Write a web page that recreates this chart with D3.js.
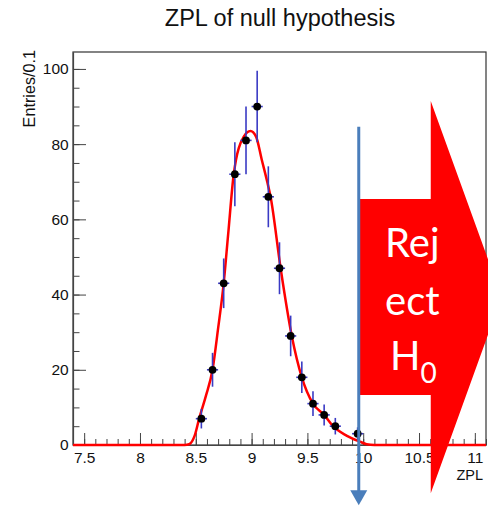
<!DOCTYPE html>
<html><head><meta charset="utf-8">
<script src="https://cdn.jsdelivr.net/npm/d3@7"></script>
<style>body{margin:0;background:#fff}svg{display:block}</style>
</head><body>
<script>
// ---- data ----
const binCenters = [8.55, 8.65, 8.75, 8.85, 8.95, 9.05, 9.15, 9.25, 9.35, 9.45, 9.55, 9.65, 9.75, 9.85, 9.95];
const entries    = [7, 20, 43, 72, 81, 90, 66, 47, 29, 18, 11, 8, 5, 0, 3];
const errors     = [2.6, 4.5, 6.6, 8.5, 9.0, 9.5, 8.1, 6.9, 5.4, 4.2, 3.3, 2.8, 2.2, 0, 1.7];
const binHalfWidth = 0.05;
const fitX = [7.40, 8.40, 8.44, 8.49, 8.53, 8.59, 8.65, 8.70, 8.75, 8.79, 8.84, 8.93, 8.99, 9.04, 9.09, 9.14, 9.17, 9.26, 9.36, 9.45, 9.55, 9.65, 9.73, 9.85, 9.97, 10.03, 10.10, 11.10];
const fitY = [0, 0, 0.2, 2.5, 7, 13, 20, 31, 43, 56, 72, 82, 83.5, 82, 76, 70, 66, 47, 29, 18, 11, 8, 5, 2.5, 0.9, 0.2, 0, 0];
const xTickValues = [7.5, 8, 8.5, 9, 9.5, 10, 10.5, 11];
const xTickLabels = ["7.5", "8", "8.5", "9", "9.5", "10", "10.5", "11"];
const yTickValues = [0, 20, 40, 60, 80, 100];
const yTickLabels = ["0", "20", "40", "60", "80", "100"];
const titleText = "ZPL of null hypothesis";
const xTitle = "ZPL";
const yTitle = "Entries/0.1";
const rejectWords = ["Rej", "ect", "H"];
const rejectSub = "0";
const cutValue = 9.96;

// ---- layout ----
const W = 488, H = 506;
const x = d3.scaleLinear().domain([7.4, 11.1]).range([73, 486]);
const y = d3.scaleLinear().domain([0, 104.5]).range([445, 52]);
const FONT = "'Liberation Sans', Arial, Helvetica, sans-serif";

const svg = d3.select("body").append("svg").attr("width", W).attr("height", H);

// title
svg.append("text").attr("x", 280).attr("y", 26).attr("text-anchor", "middle")
  .attr("font-family", FONT).attr("font-size", 23.5).attr("fill", "#111").text(titleText);

// frame
svg.append("rect").attr("x", x.range()[0]).attr("y", y.range()[1])
  .attr("width", x.range()[1] - x.range()[0]).attr("height", y.range()[0] - y.range()[1])
  .attr("fill", "none").attr("stroke", "#333").attr("stroke-width", 1.2);

// x axis
const xMinor = d3.range(75, 112).map(d => d / 10);
const gxm = svg.append("g").attr("transform", `translate(0,${y(0)})`)
  .call(d3.axisBottom(x).tickValues(xMinor).tickSizeInner(-6).tickSizeOuter(0).tickFormat(""));
gxm.select(".domain").remove();
const gx = svg.append("g").attr("transform", `translate(0,${y(0)})`)
  .call(d3.axisBottom(x).tickValues(xTickValues).tickSizeInner(-12).tickSizeOuter(0)
    .tickPadding(6.5).tickFormat((d, i) => xTickLabels[i]));
gx.select(".domain").attr("stroke", "#444").attr("stroke-width", 1.2);
gx.selectAll("text").attr("font-family", FONT).attr("font-size", 15.5).attr("fill", "#111");

// y axis
const yMinor = d3.range(0, 105, 5);
const gym = svg.append("g").attr("transform", `translate(${x(7.4)},0)`)
  .call(d3.axisLeft(y).tickValues(yMinor).tickSizeInner(-6.5).tickSizeOuter(0).tickFormat(""));
gym.select(".domain").remove();
const gy = svg.append("g").attr("transform", `translate(${x(7.4)},0)`)
  .call(d3.axisLeft(y).tickValues(yTickValues).tickSizeInner(-13).tickSizeOuter(0)
    .tickPadding(4.3).tickFormat((d, i) => yTickLabels[i]));
gy.select(".domain").attr("stroke", "#444").attr("stroke-width", 1.2);
gy.selectAll("text").attr("font-family", FONT).attr("font-size", 15.5).attr("fill", "#111");
svg.selectAll(".tick line").attr("stroke", "#444");

// axis titles
svg.append("text").attr("x", 483).attr("y", 480).attr("text-anchor", "end")
  .attr("font-family", FONT).attr("font-size", 14.5).attr("fill", "#111").text(xTitle);
svg.append("text").attr("transform", "translate(35,50) rotate(-90)").attr("text-anchor", "end")
  .attr("font-family", FONT).attr("font-size", 16.2).attr("fill", "#111").text(yTitle);

// fit curve
const fit = fitX.map((v, i) => [v, fitY[i]]);
svg.append("path").datum(fit)
  .attr("d", d3.line().x(d => x(d[0])).y(d => y(d[1])).curve(d3.curveMonotoneX))
  .attr("fill", "none").attr("stroke", "#ff0000").attr("stroke-width", 2.5);

// data points with errors
const pts = binCenters.map((c, i) => ({ c, n: entries[i], e: errors[i] })).filter(d => d.n > 0);
const gp = svg.append("g");
gp.selectAll("line.v").data(pts).join("line").attr("class", "v")
  .attr("x1", d => x(d.c)).attr("x2", d => x(d.c))
  .attr("y1", d => y(d.n + d.e)).attr("y2", d => y(d.n - d.e))
  .attr("stroke", "#3a3ac4").attr("stroke-width", 1.6);
gp.selectAll("line.h").data(pts).join("line").attr("class", "h")
  .attr("x1", d => x(d.c - binHalfWidth)).attr("x2", d => x(d.c + binHalfWidth))
  .attr("y1", d => y(d.n)).attr("y2", d => y(d.n))
  .attr("stroke", "#3a3ac4").attr("stroke-width", 1.6);
gp.selectAll("circle").data(pts).join("circle")
  .attr("cx", d => x(d.c)).attr("cy", d => y(d.n)).attr("r", 3.9).attr("fill", "#000");

// reject arrow overlay (geometry in axis units)
const arrow = {
  left: cutValue, neck: 10.605, tip: 11.24,
  headTop: 91.5, bodyTop: 65.4, mid: 39.35, bodyBottom: 13.3, headBottom: -12.8
};
const arrowPts = [
  [arrow.left, arrow.bodyTop], [arrow.neck, arrow.bodyTop], [arrow.neck, arrow.headTop],
  [arrow.tip, arrow.mid], [arrow.neck, arrow.headBottom], [arrow.neck, arrow.bodyBottom],
  [arrow.left, arrow.bodyBottom]
];
svg.append("path").attr("d", d3.line().x(d => x(d[0])).y(d => y(d[1]))(arrowPts) + "Z")
  .attr("fill", "#ff0000");

const tx = x(10.44), cy = y(arrow.mid);
const TFONT = "Lato, 'Open Sans', sans-serif";
svg.append("text").attr("x", tx).attr("y", cy - 40).attr("text-anchor", "middle")
  .attr("font-family", TFONT).attr("font-size", 40).attr("fill", "#fff").text(rejectWords[0]);
svg.append("text").attr("x", tx).attr("y", cy + 18).attr("text-anchor", "middle")
  .attr("font-family", TFONT).attr("font-size", 40).attr("fill", "#fff").text(rejectWords[1]);
const h0 = svg.append("text").attr("x", tx + 1).attr("y", cy + 73).attr("text-anchor", "middle")
  .attr("font-family", TFONT).attr("font-size", 40).attr("fill", "#fff");
h0.append("tspan").text(rejectWords[2]);
h0.append("tspan").attr("font-size", 28).attr("dy", 13).text(rejectSub);

// blue cut line with arrowhead
const bx = x(cutValue);
svg.append("line").attr("x1", bx).attr("x2", bx).attr("y1", y(84.6)).attr("y2", y(-12.5))
  .attr("stroke", "#4a7ebb").attr("stroke-width", 3);
svg.append("path")
  .attr("d", `M${bx - 8.5},${y(-12)}L${bx + 8.5},${y(-12)}L${bx},${y(-16)}Z`)
  .attr("fill", "#4a7ebb");
</script>
</body></html>
